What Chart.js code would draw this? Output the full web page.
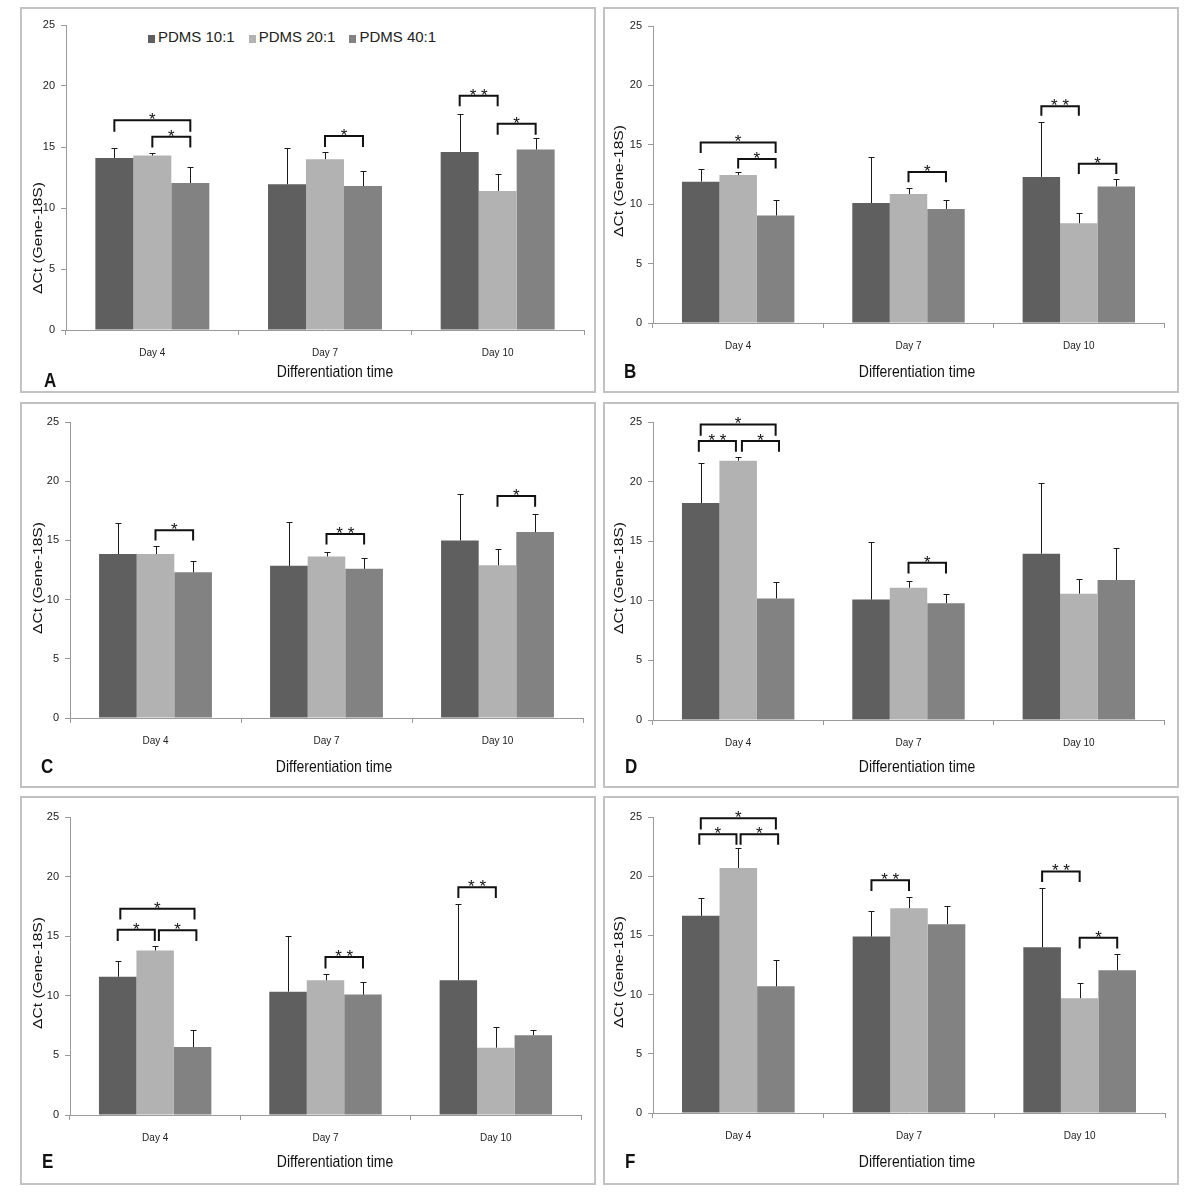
<!DOCTYPE html>
<html>
<head>
<meta charset="utf-8">
<title>PDMS ΔCt</title>
<script src="https://cdn.jsdelivr.net/npm/chart.js@4.4.1/dist/chart.umd.min.js"></script>
<style>
  body { margin: 0; background: #fff; width: 1200px; height: 1194px; position: relative; overflow: hidden;
         font-family: 'Liberation Sans', Arial, sans-serif; }
  .panel { position: absolute; }
  .panel canvas { position: absolute; left: 0; top: 0; }
  .frame { position: absolute; left: 0; top: 0; right: 0; bottom: 0; border: 2px solid #c2c2c2;
           box-sizing: border-box; pointer-events: none; }
  #legend { position: absolute; left: 148px; top: 28px; display: flex; align-items: center; gap: 14px;
            font-size: 15px; line-height: 17px; color: #222; }
  #legend .sw { display: inline-block; width: 7px; height: 8px; margin-right: 3px; vertical-align: -1px; }
</style>
</head>
<body>
<div id="legend"></div>
<script>
const categories = ['Day 4', 'Day 7', 'Day 10'];
const seriesLabels = ['PDMS 10:1', 'PDMS 20:1', 'PDMS 40:1'];
const seriesColors = ['#5f5f5f', '#b2b2b2', '#828282'];
const yTicks = [0, 5, 10, 15, 20, 25];

// means per series (10:1, 20:1, 40:1) x day, upper error = sd
// brackets: [day, fromBar, toBar, lineY, endY, label]
const meanA = [[14.1, 11.95, 14.6], [14.3, 14.0, 11.4], [12.05, 11.8, 14.8]];
const sdA = [[0.8, 2.95, 3.1], [0.2, 0.6, 1.4], [1.35, 1.2, 0.9]];
const sigA = [[0, 0, 2, 17.2, 16.25, '*'], [0, 1, 2, 15.85, 14.95, '*'], [1, 1, 2, 15.9, 15.0, '*'],
              [2, 0, 1, 19.2, 18.35, '* *'], [2, 1, 2, 16.9, 16.0, '*']];

const meanB = [[11.9, 10.1, 12.3], [12.45, 10.85, 8.4], [9.05, 9.6, 11.5]];
const sdB = [[1.05, 3.85, 4.6], [0.25, 0.55, 0.9], [1.3, 0.75, 0.6]];
const sigB = [[0, 0, 2, 15.2, 14.3, '*'], [0, 1, 2, 13.8, 13.0, '*'], [1, 1, 2, 12.7, 11.85, '*'],
              [2, 0, 1, 18.25, 17.45, '* *'], [2, 1, 2, 13.4, 12.55, '*']];

const meanC = [[13.85, 12.85, 15.0], [13.85, 13.65, 12.9], [12.3, 12.6, 15.7]];
const sdC = [[2.6, 3.7, 3.9], [0.65, 0.4, 1.4], [1.0, 0.9, 1.55]];
const sigC = [[0, 1, 2, 15.85, 15.0, '*'], [1, 1, 2, 15.55, 14.65, '* *'], [2, 1, 2, 18.75, 17.85, '*']];

const meanD = [[18.2, 10.1, 13.95], [21.75, 11.1, 10.6], [10.2, 9.8, 11.75]];
const sdD = [[3.4, 4.85, 5.95], [0.3, 0.6, 1.2], [1.35, 0.8, 2.65]];
const sigD = [[0, 0, 2, 24.8, 23.85, '*'], [0, -0.05, 0.94, 23.4, 22.5, '* *'], [0, 1.1, 2.09, 23.4, 22.5, '*'],
              [1, 1, 2, 13.2, 12.3, '*']];

const meanE = [[11.6, 10.35, 11.3], [13.8, 11.3, 5.65], [5.7, 10.1, 6.7]];
const sdE = [[1.35, 4.7, 6.4], [0.4, 0.55, 1.75], [1.45, 1.05, 0.4]];
const sigE = [[0, 0.07, 2.05, 17.3, 16.4, '*'], [0, 0, 0.99, 15.55, 14.6, '*'], [0, 1.1, 2.1, 15.5, 14.6, '*'],
              [1, 1, 2, 13.25, 12.3, '* *'], [2, 0, 1, 19.1, 18.2, '* *']];

const meanF = [[16.65, 14.9, 14.0], [20.7, 17.3, 9.7], [10.7, 15.95, 12.05]];
const sdF = [[1.55, 2.2, 5.0], [1.65, 0.95, 1.3], [2.2, 1.55, 1.4]];
const sigF = [[0, 0, 2, 24.9, 23.95, '*'], [0, -0.04, 0.95, 23.55, 22.65, '*'], [0, 1.06, 2.06, 23.55, 22.65, '*'],
              [1, 0, 1, 19.65, 18.75, '* *'], [2, 0, 1, 20.4, 19.5, '* *'], [2, 1, 2, 14.8, 13.9, '*']];

const yTitle = 'ΔCt (Gene-18S)';
const xTitle = 'Differentiation time';

// page layout: frame box, plot area [l, t, r, b], title/letter anchors
const panels = [
  { id: 'A', mean: meanA, sd: sdA, sig: sigA, box: [20, 7, 576, 386], area: [66, 25, 584, 330],
    yT: [38, 238], xT: [335, 377], letter: [44, 387] },
  { id: 'B', mean: meanB, sd: sdB, sig: sigB, box: [603, 7, 576, 386], area: [653, 26, 1164, 323],
    yT: [619, 181], xT: [917, 377], letter: [624, 378] },
  { id: 'C', mean: meanC, sd: sdC, sig: sigC, box: [20, 402, 576, 386], area: [70, 422, 583, 718],
    yT: [38, 578], xT: [334, 772], letter: [41, 773] },
  { id: 'D', mean: meanD, sd: sdD, sig: sigD, box: [603, 402, 576, 386], area: [653, 422, 1164, 720],
    yT: [619, 578], xT: [917, 772], letter: [625, 773] },
  { id: 'E', mean: meanE, sd: sdE, sig: sigE, box: [20, 796, 576, 389], area: [70, 817, 581, 1115],
    yT: [38, 973], xT: [335, 1167], letter: [42, 1168] },
  { id: 'F', mean: meanF, sd: sdF, sig: sigF, box: [603, 796, 576, 389], area: [653, 817, 1165, 1113],
    yT: [619, 972], xT: [917, 1167], letter: [625, 1168] }
];

const FONT = "'Liberation Sans', Arial, sans-serif";
Chart.defaults.font.family = FONT;

// error bars, significance brackets, titles and panel letter
const makeOverlay = (p) => ({
  id: 'overlay' + p.id,
  afterDraw(chart) {
    const ctx = chart.ctx;
    const y = chart.scales.y;
    const ox = p.box[0], oy = p.box[1];
    ctx.save();

    // error bars (upper only)
    ctx.strokeStyle = '#1a1a1a';
    ctx.lineWidth = 1;
    ctx.beginPath();
    p.sd.forEach((arr, di) => {
      chart.getDatasetMeta(di).data.forEach((bar, j) => {
        const top = Math.round(y.getPixelForValue(p.mean[di][j] + arr[j])) + 0.5;
        const x = Math.round(bar.x) + 0.5;
        ctx.moveTo(x, bar.y);
        ctx.lineTo(x, top);
        ctx.moveTo(x - 3, top);
        ctx.lineTo(x + 3, top);
      });
    });
    ctx.stroke();

    // brackets
    ctx.strokeStyle = '#111';
    ctx.lineWidth = 2;
    ctx.fillStyle = '#111';
    ctx.font = '17px ' + FONT;
    ctx.textAlign = 'center';
    ctx.textBaseline = 'alphabetic';
    p.sig.forEach(([day, a, b, yv, ye, label]) => {
      const x0 = chart.getDatasetMeta(0).data[day].x;
      const step = chart.getDatasetMeta(1).data[day].x - x0;
      const xa = x0 + a * step, xb = x0 + b * step;
      const yl = y.getPixelForValue(yv), yd = y.getPixelForValue(ye);
      ctx.beginPath();
      ctx.moveTo(xa, yd);
      ctx.lineTo(xa, yl);
      ctx.lineTo(xb, yl);
      ctx.lineTo(xb, yd);
      ctx.stroke();
      ctx.fillText(label, (xa + xb) / 2, yl + 5);
    });

    // axis titles (slightly stretched vertically like the source image)
    ctx.fillStyle = '#111';
    ctx.save();
    ctx.translate(p.yT[0] - ox, p.yT[1] - oy);
    ctx.rotate(-Math.PI / 2);
    ctx.scale(1.2, 1);
    ctx.font = '13px ' + FONT;
    ctx.textBaseline = 'middle';
    ctx.fillText(yTitle, 0, 0);
    ctx.restore();

    ctx.save();
    ctx.translate(p.xT[0] - ox, p.xT[1] - oy);
    ctx.scale(1, 1.2);
    ctx.font = '14px ' + FONT;
    ctx.textBaseline = 'alphabetic';
    ctx.fillText(xTitle, 0, 0);
    ctx.restore();

    ctx.save();
    ctx.translate(p.letter[0] - ox, p.letter[1] - oy);
    ctx.scale(1, 1.15);
    ctx.font = 'bold 17px ' + FONT;
    ctx.textAlign = 'left';
    ctx.textBaseline = 'alphabetic';
    ctx.fillText(p.id, 0, 0);
    ctx.restore();

    ctx.restore();
  }
});

const drawPanel = (p) => {
  const [left, top, width, height] = p.box;
  const wrap = document.createElement('div');
  wrap.className = 'panel';
  wrap.style.left = left + 'px';
  wrap.style.top = top + 'px';
  wrap.style.width = width + 'px';
  wrap.style.height = height + 'px';
  const canvas = document.createElement('canvas');
  canvas.width = width;
  canvas.height = height;
  canvas.style.width = width + 'px';
  canvas.style.height = height + 'px';
  const frame = document.createElement('div');
  frame.className = 'frame';
  wrap.appendChild(canvas);
  wrap.appendChild(frame);
  document.body.appendChild(wrap);

  new Chart(canvas.getContext('2d'), {
    type: 'bar',
    data: {
      labels: categories,
      datasets: seriesLabels.map((label, i) => ({
        label: label,
        data: p.mean[i],
        backgroundColor: seriesColors[i],
        borderWidth: 0,
        categoryPercentage: 0.66,
        barPercentage: 1.0
      }))
    },
    options: {
      responsive: false,
      animation: false,
      devicePixelRatio: 1,
      layout: {
        padding: { left: 0, top: p.area[1] - top, right: left + width - p.area[2], bottom: 0 }
      },
      plugins: {
        legend: { display: false },
        tooltip: { enabled: false }
      },
      scales: {
        x: {
          offset: true,
          grid: { offset: true, drawOnChartArea: false, drawTicks: true, tickLength: 5, color: '#9a9a9a' },
          border: { color: '#9a9a9a' },
          ticks: { font: { size: 10 }, color: '#222', padding: 12, maxRotation: 0, autoSkip: false },
          afterFit: (s) => { s.height = top + height - p.area[3]; }
        },
        y: {
          min: 0,
          max: 25,
          afterBuildTicks: (s) => { s.ticks = yTicks.map(v => ({ value: v })); },
          grid: { drawOnChartArea: false, drawTicks: true, tickLength: 5, color: '#9a9a9a' },
          border: { color: '#9a9a9a' },
          ticks: { font: { size: 11 }, color: '#222', padding: 6 },
          afterFit: (s) => { s.width = p.area[0] - left; }
        }
      }
    },
    plugins: [makeOverlay(p)]
  });
};

panels.forEach(drawPanel);

// custom legend (panel A only)
const legendContainer = document.getElementById('legend');
seriesLabels.forEach((label, i) => {
  const item = document.createElement('div');
  item.innerHTML = `<span class="sw" style="background:${seriesColors[i]}"></span><span>${label}</span>`;
  legendContainer.appendChild(item);
});
</script>
</body>
</html>
